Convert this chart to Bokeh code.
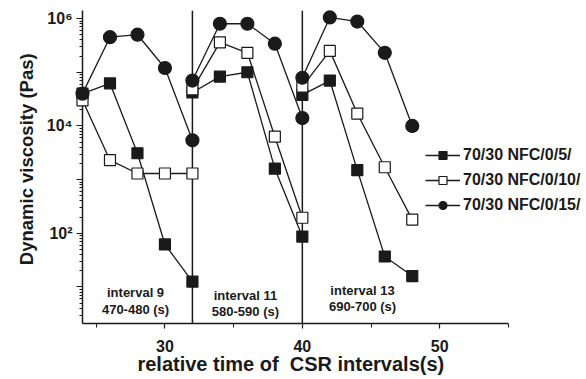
from bokeh.plotting import figure
from bokeh.models import (Range1d, FixedTicker, Span, Label, Legend, LegendItem)
from bokeh.embed import file_html
from bokeh.resources import INLINE

# Relative time (s) of the points in each CSR interval
time_9 = [24, 26, 28, 30, 32]
time_11 = [32, 34, 36, 38, 40]
time_13 = [40, 42, 44, 46, 48]

# Dynamic viscosity (Pa s) for each sample, per interval
nfc5_9 = [4.0e4, 6.2e4, 3.1e3, 62, 12.6]
nfc5_11 = [4.2e4, 8.3e4, 1.0e5, 1.6e3, 87]
nfc5_13 = [3.8e4, 7.0e4, 1.5e3, 37, 16]

nfc10_9 = [3.0e4, 2.3e3, 1.3e3, 1.3e3, 1.3e3]
nfc10_11 = [4.8e4, 3.6e5, 2.3e5, 6.3e3, 195]
nfc10_13 = [5.4e4, 2.5e5, 1.7e4, 1.7e3, 180]

nfc15_9 = [4.0e4, 4.5e5, 5.0e5, 1.2e5, 5.4e3]
nfc15_11 = [7.0e4, 8.0e5, 8.0e5, 3.4e5, 1.4e4]
nfc15_13 = [7.9e4, 1.05e6, 8.8e5, 2.3e5, 1.0e4]

series_names = ["70/30 NFC/0/5/", "70/30 NFC/0/10/", "70/30 NFC/0/15/"]

# Interval boundaries and their annotations
boundaries = [32, 40]
interval_titles = ["interval 9", "interval 11", "interval 13"]
interval_spans = ["470-480 (s)", "580-590 (s)", "690-700 (s)"]

x_ticks = [30, 40, 50]
x_minor = [25, 35, 45, 55]
y_ticks = [1e1, 1e2, 1e3, 1e4, 1e5, 1e6]
y_labels = {1e1: "", 1e2: "10²", 1e3: "", 1e4: "10⁴", 1e5: "", 1e6: "10⁶"}

FONT = "Liberation Sans"
INK = "#1a1a1a"
NBSP = "\u00a0"

# the frame runs to the right edge so the legend has room; the x axis itself
# is bounded to 24..55
p = figure(width=586, height=379, output_backend="svg", toolbar_location=None,
           y_axis_type="log",
           x_range=Range1d(24, 60.39), y_range=Range1d(10 ** 0.32, 10 ** 6.15),
           min_border_left=82, min_border_right=4, min_border_top=10,
           min_border_bottom=56)
p.outline_line_color = None
p.grid.visible = False
p.background_fill_color = "white"
p.border_fill_color = "white"

# axes
for ax in (p.xaxis[0], p.yaxis[0]):
    ax.axis_line_color = INK
    ax.axis_line_width = 1.5
    ax.major_tick_line_color = INK
    ax.minor_tick_line_color = INK
    ax.major_tick_line_width = 1.2
    ax.minor_tick_line_width = 1.0
    ax.major_tick_in = 0
    ax.minor_tick_in = 0
    ax.major_label_text_font = FONT
    ax.major_label_text_font_style = "bold"
    ax.major_label_text_font_size = "16px"
    ax.major_label_text_color = INK
    ax.axis_label_text_font = FONT
    ax.axis_label_text_font_style = "bold"
    ax.axis_label_text_color = INK

p.xaxis.bounds = (24, 55)
p.xaxis.ticker = FixedTicker(ticks=x_ticks, minor_ticks=x_minor)
p.xaxis.major_tick_out = 5
p.xaxis.minor_tick_out = 4
p.xaxis.major_label_standoff = 11
p.xaxis.axis_label = "relative time of" + NBSP * 2 + "CSR intervals(s)" + NBSP * 15
p.xaxis.axis_label_text_font_size = "20px"
p.xaxis.axis_label_standoff = -2

minor_y = [k * 10 ** d for d in range(0, 7) for k in range(2, 10)]
p.yaxis.ticker = FixedTicker(ticks=y_ticks, minor_ticks=minor_y)
p.yaxis.major_label_overrides = y_labels
p.yaxis.major_tick_out = 6
p.yaxis.minor_tick_out = 3
p.yaxis.major_label_standoff = 4
p.yaxis.axis_label = NBSP * 3 + "Dynamic viscosity (Pas)"
p.yaxis.axis_label_text_font_size = "18.5px"
p.yaxis.axis_label_standoff = 7

# interval boundaries
for b in boundaries:
    p.add_layout(Span(location=b, dimension="height", line_color=INK, line_width=1.5))

times = [time_9, time_11, time_13]
groups = [
    ([nfc5_9, nfc5_11, nfc5_13], "square", INK, 11),
    ([nfc10_9, nfc10_11, nfc10_13], "square", "white", 11),
    ([nfc15_9, nfc15_11, nfc15_13], "circle", INK, 13),
]

items = []
for name, (vals, marker, fill, size) in zip(series_names, groups):
    lines, marks = [], []
    for t, v in zip(times, vals):
        lines.append(p.line(t, v, line_color=INK, line_width=1.3, level="overlay"))
    for t, v in zip(times, vals):
        marks.append(p.scatter(t, v, marker=marker, size=size, fill_color=fill,
                               line_color=INK, line_width=1.2, level="overlay"))
    items.append(LegendItem(label=name, renderers=[lines[0], marks[0]]))

legend = Legend(items=items, location=(343, 108), padding=0, margin=0,
                spacing=5, glyph_width=35, glyph_height=20, label_height=20,
                label_standoff=3, border_line_color=None,
                background_fill_alpha=0,
                label_text_font=FONT, label_text_font_style="bold",
                label_text_font_size="16px", label_text_color=INK)
p.add_layout(legend)

# interval annotations
title_pos = [(27.86, 7.9), (35.86, 6.9), (44.38, 8.6)]
span_pos = [(27.86, 3.8), (35.86, 3.5), (44.38, 4.3)]
for txts, positions in ((interval_titles, title_pos), (interval_spans, span_pos)):
    for txt, (x, y) in zip(txts, positions):
        p.add_layout(Label(x=x, y=y, text=txt, text_align="center",
                           text_baseline="middle", text_font=FONT,
                           text_font_style="bold", text_font_size="13px",
                           text_color=INK))

open("out.html", "w").write(file_html(p, INLINE))
